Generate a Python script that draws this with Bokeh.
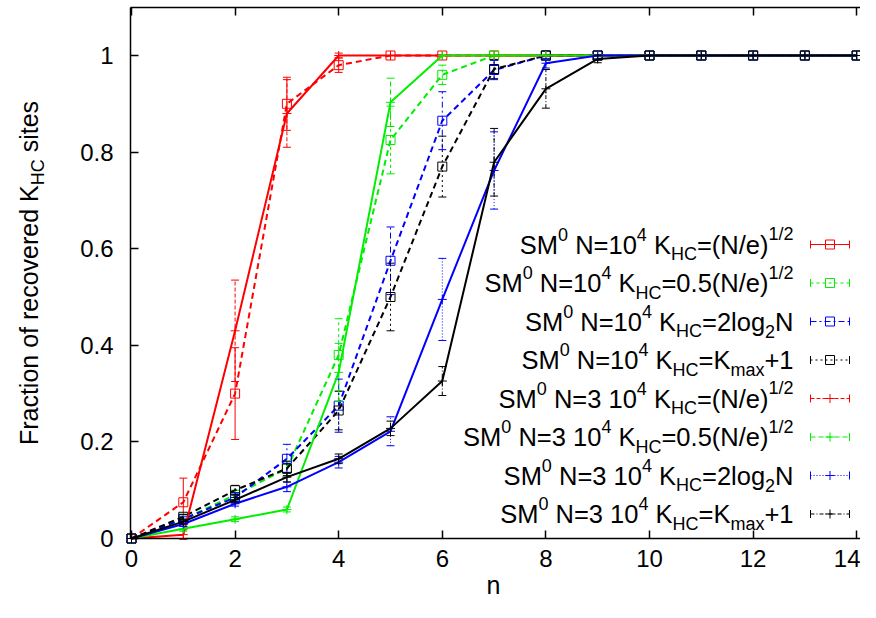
import re
import numpy as np
from bokeh.plotting import figure
from bokeh.models import Range1d, LinearAxis, FixedTicker, Label, PrintfTickFormatter
from bokeh.embed import file_html
from bokeh.resources import INLINE

# ---------------- data ----------------
n = list(range(15))

# N = 10^4 (square markers)
sq_red = [0, 0.075, 0.30, 0.90, 0.98, 1, 1, 1, 1, 1, 1, 1, 1, 1, 1]
sq_red_err = [0, 0.05, 0.095, 0.055, 0.015, 0, 0, 0, 0, 0, 0, 0, 0, 0, 0]
sq_green = [0, 0.04, 0.09, 0.145, 0.38, 0.825, 0.96, 1, 1, 1, 1, 1, 1, 1, 1]
sq_green_err = [0, 0.01, 0.01, 0.015, 0.075, 0.07, 0.02, 0, 0, 0, 0, 0, 0, 0, 0]
sq_blue = [0, 0.04, 0.085, 0.165, 0.275, 0.575, 0.865, 0.97, 1, 1, 1, 1, 1, 1, 1]
sq_blue_err = [0, 0.005, 0.01, 0.03, 0.055, 0.07, 0.06, 0.02, 0, 0, 0, 0, 0, 0, 0]
sq_black = [0, 0.045, 0.10, 0.145, 0.265, 0.50, 0.77, 0.972, 1, 1, 1, 1, 1, 1, 1]
sq_black_err = [0, 0.005, 0.01, 0.015, 0.04, 0.07, 0.063, 0.02, 0, 0, 0, 0, 0, 0, 0]

# N = 3 10^4 (plus markers)
pl_red = [0, 0.008, 0.43, 0.88, 1, 1, 1, 1, 1, 1, 1, 1, 1, 1, 1]
pl_red_err = [0, 0.01, 0.105, 0.07, 0.005, 0, 0, 0, 0, 0, 0, 0, 0, 0, 0]
pl_green = [0, 0.02, 0.04, 0.06, 0.344, 0.903, 1, 1, 1, 1, 1, 1, 1, 1, 1]
pl_green_err = [0, 0.005, 0.005, 0.005, 0.06, 0.05, 0, 0, 0, 0, 0, 0, 0, 0, 0]
pl_blue = [0, 0.03, 0.072, 0.107, 0.158, 0.222, 0.495, 0.762, 0.984, 1, 1, 1, 1, 1, 1]
pl_blue_err = [0, 0.005, 0.005, 0.01, 0.012, 0.03, 0.085, 0.08, 0.01, 0, 0, 0, 0, 0, 0]
pl_black = [0, 0.035, 0.08, 0.127, 0.165, 0.228, 0.326, 0.779, 0.931, 0.993, 1, 1, 1, 1, 1]
pl_black_err = [0, 0.005, 0.005, 0.01, 0.01, 0.015, 0.03, 0.07, 0.04, 0.008, 0, 0, 0, 0, 0]

legend_labels = [
    "SM^{0} N=10^{4} K_{HC}=(N/e)^{1/2}",
    "SM^{0} N=10^{4} K_{HC}=0.5(N/e)^{1/2}",
    "SM^{0} N=10^{4} K_{HC}=2log_{2}N",
    "SM^{0} N=10^{4} K_{HC}=K_{max}+1",
    "SM^{0} N=3 10^{4} K_{HC}=(N/e)^{1/2}",
    "SM^{0} N=3 10^{4} K_{HC}=0.5(N/e)^{1/2}",
    "SM^{0} N=3 10^{4} K_{HC}=2log_{2}N",
    "SM^{0} N=3 10^{4} K_{HC}=K_{max}+1",
]
y_label = "Fraction of recovered K_{HC} sites"
x_label = "n"

x_ticks = [0, 2, 4, 6, 8, 10, 12, 14]
y_ticks = [0, 0.2, 0.4, 0.6, 0.8, 1]
y_tick_labels = ["0", "0.2", "0.4", "0.6", "0.8", "1"]

# ---------------- styling / layout (pixel geometry) ----------------
FONT = "Liberation Sans"
TICK_FS = 24
FS = 25
SS = 18
LEG_FS = 25.5
W_FIG, H_FIG = 860, 602
PX0, PXU = 131.0, 51.8     # pixel of x=0, pixels per x unit
PY0, PYU = 538.0, 483.0    # pixel of y=0, pixels per y unit
FRAME_L, FRAME_T = 130, 7


def dx(px):
    return (px - PX0) / PXU


def dy(py):
    return (PY0 - py) / PYU


CW = {' ': 278, '\u00a0': 278, '(': 333, ')': 333, '+': 584, '.': 278, '/': 278,
      '=': 584, 'C': 722, 'F': 611, 'H': 722, 'K': 667, 'M': 833, 'N': 722,
      'S': 667, 'a': 556, 'c': 500, 'd': 556, 'e': 556, 'f': 278, 'g': 556,
      'i': 222, 'l': 222, 'm': 833, 'n': 556, 'o': 556, 'r': 333, 's': 500,
      't': 278, 'v': 500, 'x': 500}


def tw(t, size):
    return sum(CW.get(c, 556) for c in t) * size / 1000.0


def parse(s):
    out = []
    for part in re.split(r'(\^\{[^}]*\}|_\{[^}]*\})', s):
        if not part:
            continue
        if part.startswith('^{'):
            out.append((part[2:-1], 'sup'))
        elif part.startswith('_{'):
            out.append((part[2:-1], 'sub'))
        else:
            out.append((part.replace(' ', '\u00a0'), 'n'))
    return out


p = figure(width=W_FIG, height=H_FIG, output_backend="svg", toolbar_location=None,
           x_range=Range1d(dx(0), dx(W_FIG)), y_range=Range1d(dy(H_FIG), dy(0)),
           min_border_left=0, min_border_right=0, min_border_top=0,
           min_border_bottom=0)
p.grid.visible = False
p.outline_line_color = None
p.background_fill_color = "white"
p.border_fill_color = "white"

xa, ya = p.xaxis[0], p.yaxis[0]
for ax in (xa, ya):
    ax.axis_line_width = 1.5
    ax.axis_line_color = "black"
    ax.major_tick_in = 8
    ax.major_tick_out = 0
    ax.major_tick_line_width = 1.5
    ax.minor_tick_line_color = None
    ax.major_label_text_font = FONT
    ax.major_label_text_font_size = f"{TICK_FS}px"
    ax.major_label_text_color = "black"
xa.ticker = FixedTicker(ticks=x_ticks)
xa.fixed_location = 0
xa.bounds = (dx(FRAME_L), dx(W_FIG))
xa.major_label_standoff = 11
ya.ticker = FixedTicker(ticks=y_ticks)
ya.formatter = PrintfTickFormatter(format="%g")
ya.major_label_overrides = dict(zip(y_ticks, y_tick_labels))
ya.major_label_standoff = 17
ya.fixed_location = dx(FRAME_L)
ya.bounds = (0, dy(FRAME_T))

top = LinearAxis(ticker=FixedTicker(ticks=x_ticks), major_label_text_color=None,
                 major_tick_in=8, major_tick_out=0, major_tick_line_width=1.5,
                 minor_tick_line_color=None, major_label_standoff=0,
                 axis_line_width=1.5, axis_line_color="black",
                 fixed_location=dy(FRAME_T), bounds=(dx(FRAME_L), dx(W_FIG)))
p.add_layout(top, "above")

series = [
    (sq_red, sq_red_err, "#ff0000", "square", "6 4", "solid"),
    (sq_green, sq_green_err, "#00ee00", "square", "6 4", "3 3"),
    (sq_blue, sq_blue_err, "#0000ff", "square", "6 4", "6 3 2 3"),
    (sq_black, sq_black_err, "#000000", "square", "6 4", "2 3"),
    (pl_red, pl_red_err, "#ff0000", "cross", "solid", "4 2"),
    (pl_green, pl_green_err, "#00ee00", "cross", "solid", "5 3"),
    (pl_blue, pl_blue_err, "#0000ff", "cross", "solid", "1 2"),
    (pl_black, pl_black_err, "#000000", "cross", "solid", "4 2 1 2"),
]

for vals, errs, col, mk, ldash, edash in series:
    p.line(n, vals, line_color=col, line_width=2, line_dash=ldash)
    xs = [x for x, e in zip(n, errs) if e > 0]
    lo = [v - e for v, e in zip(vals, errs) if e > 0]
    hi = [v + e for v, e in zip(vals, errs) if e > 0]
    p.segment(x0=xs, y0=lo, x1=xs, y1=hi, line_color=col, line_width=1, line_dash=edash)
    p.scatter(xs + xs, lo + hi, marker="dash", size=8, line_color=col, line_width=1)
    p.scatter(n, vals, marker=mk, size=9, line_color=col, fill_color=None, line_width=1)

# ---------------- legend (manual, with super/subscripts) ----------------
TEXT_RIGHT = 793
ROW0, ROWSTEP = 244, 38.5
S0, S1 = 810, 849
for i, (lab, (vals, errs, col, mk, ldash, edash)) in enumerate(zip(legend_labels, series)):
    fy = ROW0 + ROWSTEP * i
    segs = parse(lab)
    total = sum(tw(t, LEG_FS if k == 'n' else SS) for t, k in segs)
    acc = -total
    for t, k in segs:
        size = LEG_FS if k == 'n' else SS
        yo = 0 if k == 'n' else (10.5 if k == 'sup' else -9.5)
        p.add_layout(Label(x=dx(TEXT_RIGHT), y=dy(fy), x_offset=acc, y_offset=yo, text=t,
                           text_font=FONT, text_font_size=f"{size}px", text_color="black",
                           text_align="left", text_baseline="middle"))
        acc += tw(t, size)
    p.segment(x0=[dx(S0)], y0=[dy(fy)], x1=[dx(S1)], y1=[dy(fy)], line_color=col,
              line_width=1, line_dash=edash)
    p.scatter([dx(S0), dx(S1)], [dy(fy), dy(fy)], marker="dash", angle=np.pi / 2,
              size=8, line_color=col, line_width=1)
    p.scatter([dx((S0 + S1) / 2)], [dy(fy)], marker=mk, size=9, line_color=col,
              fill_color=None, line_width=1)

# ---------------- axis titles ----------------
segs = parse(y_label)
total = sum(tw(t, FS if k == 'n' else SS) for t, k in segs)
start_py = (FRAME_T + PY0) / 2 + total / 2
acc = 0
for t, k in segs:
    size = FS if k == 'n' else SS
    xo = 9 if k == 'sub' else 0
    p.add_layout(Label(x=dx(28), y=dy(start_py), x_offset=xo, y_offset=acc, text=t,
                       angle=np.pi / 2, text_font=FONT, text_font_size=f"{size}px",
                       text_color="black", text_align="left", text_baseline="middle"))
    acc += tw(t, size)

p.add_layout(Label(x=dx(493), y=dy(584), text=x_label, text_font=FONT,
                   text_font_size=f"{FS}px", text_color="black",
                   text_align="center", text_baseline="middle"))

open("out.html", "w").write(file_html(p, INLINE))
